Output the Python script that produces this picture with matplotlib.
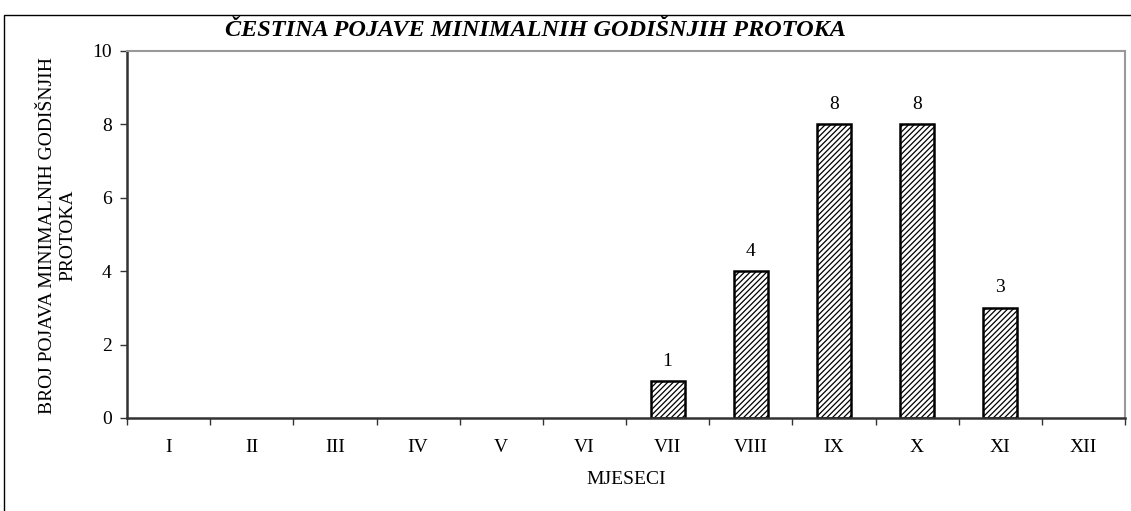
import matplotlib.pyplot as plt
from matplotlib.patches import Rectangle

months = ['I', 'II', 'III', 'IV', 'V', 'VI', 'VII', 'VIII', 'IX', 'X', 'XI', 'XII']
counts = [0, 0, 0, 0, 0, 0, 1, 4, 8, 8, 3, 0]

plt.rcParams['font.family'] = ['Liberation Serif', 'DejaVu Serif']
plt.rcParams['hatch.color'] = '#8a8a8a'
plt.rcParams['hatch.linewidth'] = 0.9

fig = plt.figure(figsize=(11.31, 5.11), dpi=100)
ax = fig.add_axes([0.1123, 0.182, 0.8824, 0.7182])

# outer chart frame, running off the right and bottom edges
fig.patches.append(Rectangle((4 / 1131, -0.1), 1.2, 0.1 + (511 - 15) / 511,
                             transform=fig.transFigure, fill=False,
                             edgecolor='black', linewidth=1.0))

x = list(range(len(months)))
bars = ax.bar(x, counts, width=0.41, color='white', edgecolor='black',
              linewidth=1.8, hatch='//////')
for b, c in zip(bars, counts):
    if c == 0:
        b.set_visible(False)

for xi, c in zip(x, counts):
    if c > 0:
        ax.text(xi, c + 0.55, str(c), ha='center', va='center', fontsize=14)

ax.set_xlim(-0.5, 11.5)
ax.set_ylim(0, 10)
ax.set_yticks([0, 2, 4, 6, 8, 10])
ax.set_xticks(x)
ax.set_xticklabels(months, fontsize=14)
ax.set_xticks([i - 0.5 for i in range(13)], minor=True)
ax.tick_params(axis='x', which='major', length=0, pad=15)
ax.tick_params(axis='x', which='minor', length=5, width=1, color='#333333', direction='out')
ax.tick_params(axis='y', labelsize=14, length=5, width=1, color='#333333', pad=6)

for side in ['left', 'bottom']:
    ax.spines[side].set_color('#333333')
    ax.spines[side].set_linewidth(1.8)
for side in ['top', 'right']:
    ax.spines[side].set_color('#999999')
    ax.spines[side].set_linewidth(1.5)

fig.text(626 / 1131, (511 - 479) / 511, 'MJESECI', ha='center', va='center', fontsize=14)
fig.text(57.5 / 1131, (511 - 235) / 511, 'BROJ POJAVA MINIMALNIH GODIŠNJIH\nPROTOKA',
         ha='center', va='center', rotation=90, fontsize=14, linespacing=1.25)

fig.text(535 / 1131, (511 - 30) / 511, 'ČESTINA POJAVE MINIMALNIH GODIŠNJIH PROTOKA',
         ha='center', va='center', fontsize=17.5, fontweight='bold', fontstyle='italic')

fig.savefig('out.png', dpi=100)
